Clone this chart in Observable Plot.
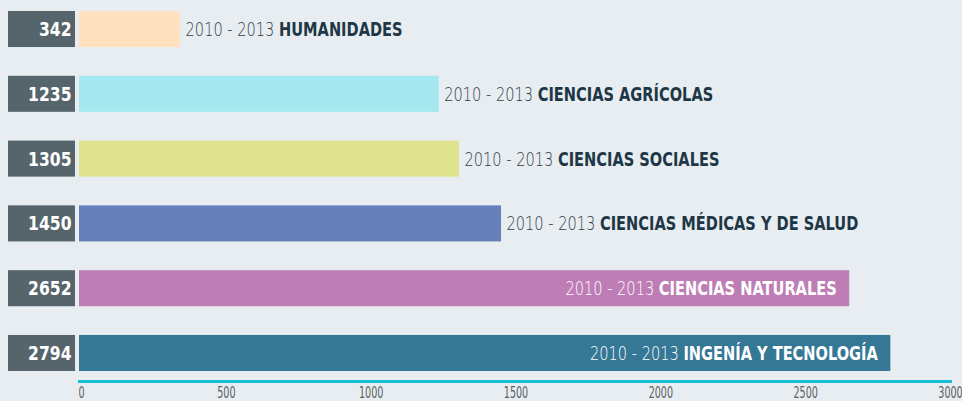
<!DOCTYPE html>
<html>
<head>
<meta charset="utf-8">
<script src="https://cdn.jsdelivr.net/npm/d3@7"></script>
<script src="https://cdn.jsdelivr.net/npm/@observablehq/plot@0.6"></script>
<style>
  html, body { margin: 0; padding: 0; background: #e8edf1; }
  #chart svg { display: block; }
</style>
</head>
<body>
<div id="chart"></div>
<script>
const categories = ["HUMANIDADES", "CIENCIAS AGRÍCOLAS", "CIENCIAS SOCIALES", "CIENCIAS MÉDICAS Y DE SALUD", "CIENCIAS NATURALES", "INGENÍA Y TECNOLOGÍA"];
const values = [342, 1235, 1305, 1450, 2652, 2794];
const period = "2010 - 2013";
const colors = ["#ffe0bf", "#a5e8f0", "#dfe38d", "#6780bb", "#be7db5", "#347896"];
const tickValues = [0, 500, 1000, 1500, 2000, 2500, 3000];
const insideThreshold = 2000;

const data = categories.map((c, i) => ({cat: c, value: values[i], color: colors[i]}));
const FONT = '"DejaVu Sans", sans-serif';

const chart = Plot.plot({
  width: 962,
  height: 401,
  marginLeft: 81,
  marginRight: 12,
  marginTop: 11,
  marginBottom: 20,
  style: {background: "#e8edf1", fontFamily: FONT, overflow: "visible"},
  x: {domain: [0, 3000], axis: null},
  y: {domain: categories, range: [11, 371], paddingInner: 0.444, paddingOuter: 0, round: false, axis: null},
  color: {domain: categories, range: colors},
  marks: [
    Plot.cell(data, {y: "cat", fill: "#56656c", insetLeft: -73, insetRight: 869 + 73 - 67}),
    Plot.barX(data, {x: "value", y: "cat", fill: "cat", insetLeft: -2}),
    Plot.text(data, {y: "cat", text: d => String(d.value), frameAnchor: "left", dx: -10, textAnchor: "end", fill: "white", fontWeight: "bold", fontSize: 20, className: "num"}),
    Plot.text(data.filter(d => d.value < insideThreshold), {x: "value", y: "cat", text: d => period + " " + d.cat, dx: 5, textAnchor: "start", fill: "#1d3746", fontSize: 20, className: "lbl"}),
    Plot.text(data.filter(d => d.value >= insideThreshold), {x: "value", y: "cat", text: d => period + " " + d.cat, dx: -13, textAnchor: "end", fill: "white", fontSize: 20, className: "lbl"}),
    Plot.frame({anchor: "bottom", stroke: "#16bfd6", strokeWidth: 3, insetLeft: -2}),
    Plot.axisX({ticks: tickValues, tickSize: 0, tickPadding: 6, fontSize: 15, color: "#5a5f63", label: null, tickFormat: d => String(d), className: "tick"})
  ]
});

// split labels into a light period and a bold category name
d3.select(chart).selectAll("g.lbl text").each(function() {
  const full = this.textContent;
  const name = full.slice(period.length + 1);
  const sel = d3.select(this);
  sel.text(null);
  sel.append("tspan").attr("font-weight", "200").text(period + " ");
  sel.append("tspan").attr("font-weight", "bold").text(name);
});
d3.select(chart).selectAll("g.lbl").each(function() {
  const g = d3.select(this);
  if (g.attr("fill") !== "white") g.selectAll("tspan:first-child").attr("fill", "#2e3e48");
});

// narrow the glyphs to imitate the condensed typeface
function condense(selector, s) {
  d3.select(chart).selectAll(selector).each(function() {
    const t = this.getAttribute("transform");
    if (t) {
      this.setAttribute("transform", t + ` scale(${s},1)`);
    } else {
      const x = +this.getAttribute("x") || 0, y = +this.getAttribute("y") || 0;
      this.removeAttribute("x"); this.removeAttribute("y");
      this.setAttribute("transform", `translate(${x},${y}) scale(${s},1)`);
    }
  });
}
condense("g.num text", 0.78);
condense("g.lbl text", 0.73);
condense("g.tick text", 0.64);

document.getElementById("chart").appendChild(chart);
</script>
</body>
</html>
